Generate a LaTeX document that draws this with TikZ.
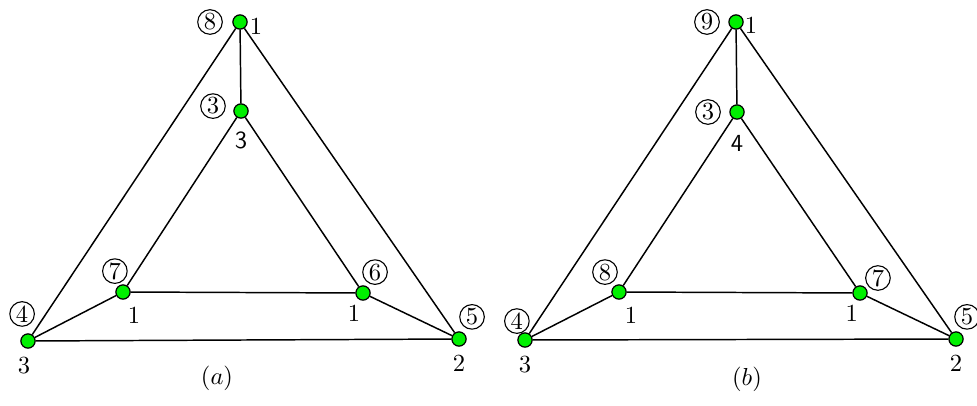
\documentclass[tikz,border=0pt]{standalone}
\usepackage{xcolor}
\definecolor{DotGreen}{RGB}{0,240,0}
\usepackage{tikz}
\usetikzlibrary{positioning}

\begin{document}
\begin{tikzpicture}[
    x=0.0143cm,y=0.0143cm,
    vtx/.style={circle,draw=black,fill=DotGreen,line width=0.5pt,minimum size=5.8pt,inner sep=0pt},
    num/.style={circle,draw=black,line width=0.45pt,minimum size=10pt,inner sep=0pt,on grid},
    deg/.style={inner sep=0pt,on grid},
    edge/.style={line width=0.6pt,black},
  ]
    \useasboundingbox (0,0) rectangle (977,405);
    % (a)
    \node[vtx] (a-top) at (240,383) {};
    \node[vtx] (a-in)  at (241,294) {};
    \node[vtx] (a-bl)  at (28,64) {};
    \node[vtx] (a-il)  at (123,113) {};
    \node[vtx] (a-ir)  at (363,112) {};
    \node[vtx] (a-br)  at (459,66) {};
    \draw[edge] (a-top) -- (a-in);
    \draw[edge] (a-top) -- (a-bl);
    \draw[edge] (a-top) -- (a-br);
    \draw[edge] (a-bl) -- (a-br);
    \draw[edge] (a-bl) -- (a-il);
    \draw[edge] (a-br) -- (a-ir);
    \draw[edge] (a-il) -- (a-ir);
    \draw[edge] (a-in) -- (a-il);
    \draw[edge] (a-in) -- (a-ir);
    \node[num,left=12.2pt of a-top] (a-n8) {8};
    \node[deg,below right=1.6pt and 6.5pt of a-top] (a-d1) {1};
    \node[num,above left=2pt and 11.4pt of a-in] (a-n3) {3};
    \node[deg,below=11.8pt of a-in] (a-d3) {\sffamily 3};
    \node[num,above left=11pt and 2.4pt of a-bl] (a-n4) {4};
    \node[deg,below left=9.8pt and 1.6pt of a-bl] (a-d3b) {3};
    \node[num,above left=8.5pt and 3.3pt of a-il] (a-n7) {7};
    \node[deg,below right=9.4pt and 4.5pt of a-il] (a-d1l) {1};
    \node[num,above right=8.5pt and 4.9pt of a-ir] (a-n6) {6};
    \node[deg,below left=8.1pt and 3.7pt of a-ir] (a-d1r) {1};
    \node[num,above right=9pt and 5.3pt of a-br] (a-n5) {5};
    \node[deg,below=9.8pt of a-br] (a-d2) {2};
    \node (a-cap) at (217,27) {$(a)$};
    % (b)
    \node[vtx] (b-top) at (736,383) {};
    \node[vtx] (b-in)  at (737,293) {};
    \node[vtx] (b-bl)  at (525,65) {};
    \node[vtx] (b-il)  at (619,113) {};
    \node[vtx] (b-ir)  at (860,112) {};
    \node[vtx] (b-br)  at (956,66) {};
    \draw[edge] (b-top) -- (b-in);
    \draw[edge] (b-top) -- (b-bl);
    \draw[edge] (b-top) -- (b-br);
    \draw[edge] (b-bl) -- (b-br);
    \draw[edge] (b-bl) -- (b-il);
    \draw[edge] (b-br) -- (b-ir);
    \draw[edge] (b-il) -- (b-ir);
    \draw[edge] (b-in) -- (b-il);
    \draw[edge] (b-in) -- (b-ir);
    \node[num,left=11.8pt of b-top] (b-n9) {9};
    \node[deg,below right=1.2pt and 6.1pt of b-top] (b-d1) {1};
    \node[num,left=11.8pt of b-in] (b-n3) {3};
    \node[deg,below=12.6pt of b-in] (b-d4) {\sffamily 4};
    \node[num,above left=7.7pt and 3.3pt of b-bl] (b-n4) {4};
    \node[deg,below=10.2pt of b-bl] (b-d3) {3};
    \node[num,above left=8.1pt and 5.7pt of b-il] (b-n8) {8};
    \node[deg,below right=9.4pt and 4.9pt of b-il] (b-d1l) {1};
    \node[num,above right=6.1pt and 7.3pt of b-ir] (b-n7) {7};
    \node[deg,below left=8.1pt and 3.3pt of b-ir] (b-d1r) {1};
    \node[num,above right=9pt and 4.5pt of b-br] (b-n5) {5};
    \node[deg,below=9.8pt of b-br] (b-d2) {2};
    \node (b-cap) at (747,26) {$(b)$};
\end{tikzpicture}
\end{document}
